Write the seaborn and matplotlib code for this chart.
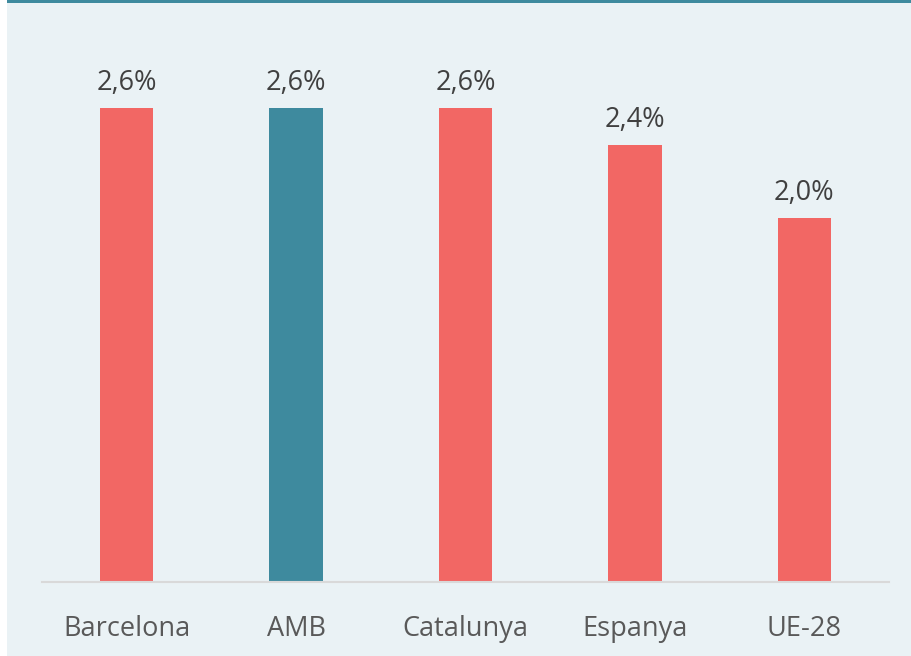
import matplotlib
matplotlib.use("Agg")
import matplotlib.pyplot as plt
import seaborn as sns
import pandas as pd
from matplotlib.patches import Rectangle

categories = ["Barcelona", "AMB", "Catalunya", "Espanya", "UE-28"]
values = [2.6, 2.6, 2.6, 2.4, 2.0]
labels = ["2,6%", "2,6%", "2,6%", "2,4%", "2,0%"]
colors = ["#F26764", "#3E8A9E", "#F26764", "#F26764", "#F26764"]

sns.set_theme(style="white")
plt.rcParams['font.family'] = ['Open Sans', 'DejaVu Sans']

bg = "#EAF2F5"
fig = plt.figure(figsize=(9.12, 6.56), dpi=100, facecolor="white")
fig.patches.append(Rectangle((7/912, 0), 1, 1, transform=fig.transFigure,
                             facecolor=bg, edgecolor="none", zorder=-10))
fig.patches.append(Rectangle((7/912, 1 - 3/656), 1, 3/656, transform=fig.transFigure,
                             facecolor="#3E8A9E", edgecolor="none", zorder=-9))

ax = fig.add_axes([42/912, (656-582)/656, (889-42)/912, (582-8)/656])
ax.set_facecolor("none")
df = pd.DataFrame({"cat": categories, "val": values})
sns.barplot(data=df, x="cat", y="val", hue="cat", palette=colors, legend=False,
            width=0.315, ax=ax, saturation=1, linewidth=0, edgecolor="none")
ax.set_xlim(-0.5, 4.5)
ax.set_ylim(0, 574/182.2)
for i, (v, t) in enumerate(zip(values, labels)):
    ax.annotate(t, (i, v), xytext=(0, 13), textcoords="offset points",
                ha="center", va="baseline", fontsize=19.5, color="#404040")
for s in ["top", "right", "left"]:
    ax.spines[s].set_visible(False)
ax.spines["bottom"].set_color("#D9D9D9")
ax.spines["bottom"].set_linewidth(1.5)
ax.set_yticks([])
ax.set_xlabel("")
ax.set_ylabel("")
ax.tick_params(axis="x", length=0, pad=24, labelsize=19.5, labelcolor="#595959")
fig.savefig("out.png", dpi=100, facecolor=fig.get_facecolor())
